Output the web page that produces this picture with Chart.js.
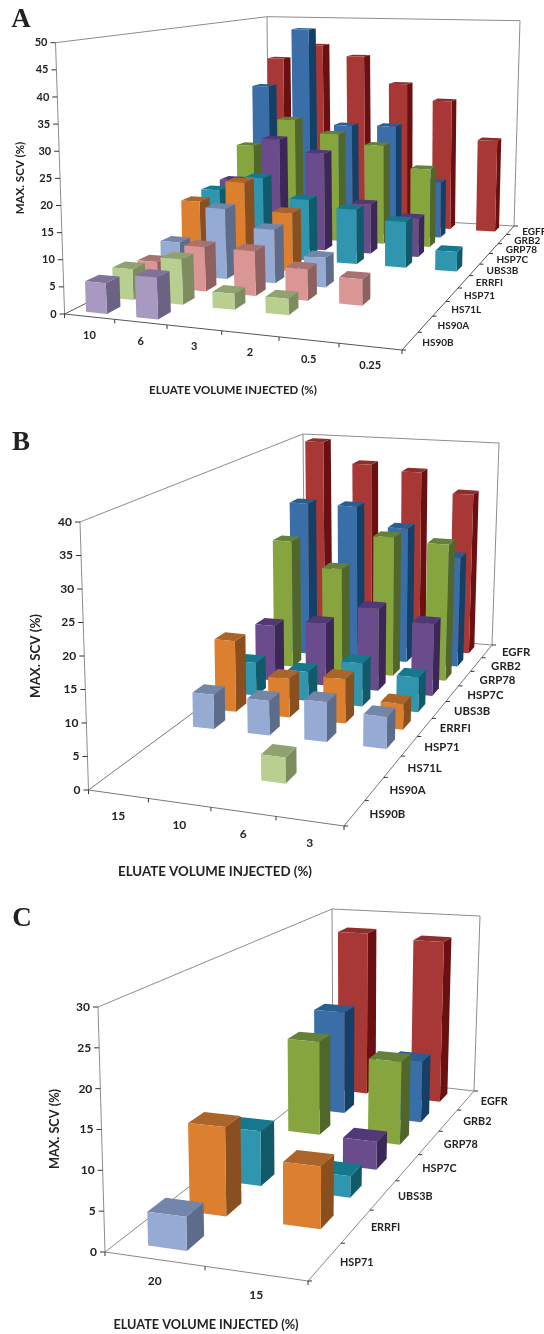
<!DOCTYPE html>
<html>
<head>
<meta charset="utf-8">
<title>Max. SCV</title>
<script src="https://cdn.jsdelivr.net/npm/chart.js@4"></script>
<style>
  html, body { margin: 0; padding: 0; background: #fff; }
  canvas { display: block; filter: blur(0.35px); }
</style>
</head>
<body>
<canvas id="panelA" width="544" height="420"></canvas>
<canvas id="panelB" width="544" height="475"></canvas>
<canvas id="panelC" width="544" height="439"></canvas>
<script>
// Data, front row first. null = no bar drawn.
var seriesA = ["HS90B","HS90A","HS71L","HSP71","ERRFI","UBS3B","HSP7C","GRP78","GRB2","EGFR"];
var categoriesA = ["10","6","3","2","0.5","0.25"];
var valuesA = [
  [5.7, 7.6, null, null, null, null],
  [5.9, 8.6, 3, 3, null, null],
  [5, 8.7, 8.7, 6, 5, null],
  [6.7, 14.3, 10.8, 5.9, null, null],
  [13.3, 18, 12.2, null, null, null],
  [14, 17.2, 13.1, 11.6, 9.7, 4.1],
  [14.5, 24.3, 21.6, 10.8, 8.3, null],
  [21, 27.5, 24.6, 22.4, 17.5, null],
  [34, 48, 25.3, 25.5, 12.8, null],
  [40, 43.5, 41, 34.5, 30.7, 21.6]
];

var seriesB = ["HS90B","HS90A","HS71L","HSP71","ERRFI","UBS3B","HSP7C","GRP78","GRB2","EGFR"];
var categoriesB = ["15","10","6","3"];
var valuesB = [
  [null, null, null, null],
  [null, null, 4, null],
  [null, null, null, null],
  [5.7, 5.7, 6.5, 5.2],
  [12.1, 6.6, 7.5, 4.3],
  [5.8, 5.1, 7.5, 6],
  [10, 11.2, 14.7, 12.8],
  [23.5, 19, 25.6, 25],
  [29, 29, 25.4, 20.5],
  [39.6, 35.6, 34.6, 30.8]
];

var seriesC = ["HSP71","ERRFI","UBS3B","HSP7C","GRP78","GRB2","EGFR"];
var categoriesC = ["20","15"];
var valuesC = [
  [4.2, null],
  [11.7, 8],
  [7.6, 2.9],
  [null, 4],
  [14.4, 12.5],
  [16.4, 9.6],
  [27.4, 26.7]
];

// front, side, top
var shades = {
  HS90B: ["#a899c0","#6c6384","#7f7399"],
  HS90A: ["#b8cf90","#7d8d60","#8fa270"],
  HS71L: ["#d99694","#8f6060","#a87272"],
  HSP71: ["#95abd3","#5c6c8a","#7385a8"],
  ERRFI: ["#dc7f2e","#8a4f1e","#ab642a"],
  UBS3B: ["#3095ae","#105a6a","#15788c"],
  HSP7C: ["#6a4c8c","#3d2759","#523877"],
  GRP78: ["#87a53f","#50662a","#65803a"],
  GRB2:  ["#3a6ea8","#143f66","#2a5d90"],
  EGFR:  ["#a83835","#6b1010","#8c2f2c"]
};

// Unit square -> quad (fl, fr, br, bl)
function quadMap(q0, q1, q2, q3) {
  var dx1=q1[0]-q2[0], dx2=q3[0]-q2[0], dx3=q0[0]-q1[0]+q2[0]-q3[0];
  var dy1=q1[1]-q2[1], dy2=q3[1]-q2[1], dy3=q0[1]-q1[1]+q2[1]-q3[1];
  var den=dx1*dy2-dx2*dy1;
  var g=(dx3*dy2-dx2*dy3)/den, h=(dx1*dy3-dx3*dy1)/den;
  var a=q1[0]-q0[0]+g*q1[0], b=q3[0]-q0[0]+h*q3[0];
  var d=q1[1]-q0[1]+g*q1[1], e=q3[1]-q0[1]+h*q3[1];
  return function(u,v) {
    var W=g*u+h*v+1;
    return [(a*u+b*v+q0[0])/W, (d*u+e*v+q0[1])/W];
  };
}

// (u,v,w) -> canvas pixel, between the floor and the ceiling of the box.
function makeProjection(box) {
  var floor = quadMap(box.fl, box.fr, box.br, box.bl);
  var ceil = quadMap(box.flTop, box.frTop, box.brTop, box.blTop);
  return function(u,v,w) {
    var a = floor(u,v), b = ceil(u,v);
    return [a[0]+(b[0]-a[0])*w, a[1]+(b[1]-a[1])*w];
  };
}

function poly(ctx, pts, fill) {
  ctx.beginPath();
  ctx.moveTo(pts[0][0], pts[0][1]);
  for (var i=1;i<pts.length;i++) ctx.lineTo(pts[i][0], pts[i][1]);
  ctx.closePath();
  ctx.fillStyle = fill;
  ctx.fill();
}

function seg(ctx, a, b, color) {
  ctx.beginPath();
  ctx.moveTo(a[0], a[1]);
  ctx.lineTo(b[0], b[1]);
  ctx.strokeStyle = color;
  ctx.lineWidth = 1;
  ctx.stroke();
}

// Walls, ticks and labels, using the chart's own (hidden) scales for ticks.
function drawFrame(chart, cfg, P) {
  var ctx = chart.ctx, s = chart.scales, area = chart.chartArea;
  var wall = "#8c8c8c", ink = "#222";
  [[[0,0,0],[0,0,1]],[[0,0,1],[0,1,1]],[[0,1,0],[0,1,1]],[[0,1,1],[1,1,1]],[[1,1,0],[1,1,1]],[[0,1,0],[1,1,0]]]
  .forEach(function(e){ seg(ctx, P.apply(null,e[0]), P.apply(null,e[1]), wall); });
  [[[0,0,0],[1,0,0]],[[1,0,0],[1,1,0]],[[0,0,0],[0,1,0]]]
  .forEach(function(e){ seg(ctx, P.apply(null,e[0]), P.apply(null,e[1]), cfg.floorLine); });

  ctx.fillStyle = ink;
  ctx.font = "bold "+cfg.tickFont+"px Lato";
  ctx.textBaseline = "middle";

  // value axis
  ctx.textAlign = "right";
  s.y.ticks.forEach(function(t){
    var w = (area.bottom - s.y.getPixelForValue(t.value)) / area.height;
    var p = P(0,0,w);
    seg(ctx, [p[0]-5,p[1]], p, "#333");
    ctx.fillStyle = ink;
    ctx.fillText(t.label, p[0]-8, p[1]);
  });

  // category axis
  ctx.textAlign = "center";
  var nx = s.x.ticks.length;
  for (var i=0;i<=nx;i++) {
    var q = P(i/nx,0,0);
    seg(ctx, q, [q[0],q[1]+4], "#333");
  }
  s.x.ticks.forEach(function(t,i){
    var u = (s.x.getPixelForTick(i) - area.left) / area.width;
    var p = P(u,0,0);
    ctx.fillStyle = ink;
    ctx.fillText(t.label, p[0], p[1]+cfg.xLabelDrop);
  });

  // depth axis
  ctx.textAlign = "left";
  ctx.font = "bold "+cfg.zFont+"px Lato";
  var nz = s.z.ticks.length;
  for (var j=0;j<=nz;j++) {
    var r = P(1,j/nz,0);
    seg(ctx, r, [r[0]+4,r[1]], "#333");
  }
  s.z.ticks.forEach(function(t,i){
    var v = (s.z.getPixelForTick(i) - area.left) / area.width;
    var p = P(1,v,0);
    ctx.fillStyle = ink;
    ctx.fillText(t.label, p[0]+cfg.zLabelGap, p[1]+1.5);
  });

  // titles
  ctx.font = "bold "+cfg.titleFont+"px Lato";
  ctx.textAlign = "center";
  ctx.fillText("ELUATE VOLUME INJECTED (%)", cfg.xTitle[0], cfg.xTitle[1]);
  ctx.save();
  ctx.translate(cfg.yTitle[0], cfg.yTitle[1]);
  ctx.rotate(-Math.PI/2);
  ctx.fillText("MAX. SCV (%)", 0, 0);
  ctx.restore();
  ctx.font = "bold 27px 'Liberation Serif'";
  ctx.fillText(cfg.letter, cfg.letterAt[0], cfg.letterAt[1]);
}

function drawCuboid(ctx, P, u0, u1, v0, v1, h, col) {
  var a=P(u0,v0,0), b=P(u1,v0,0), c=P(u1,v0,h), d=P(u0,v0,h);
  var e=P(u1,v1,0), f=P(u1,v1,h), g=P(u0,v1,h);
  poly(ctx,[b,e,f,c],col[1]);
  poly(ctx,[d,c,f,g],col[2]);
  poly(ctx,[a,b,c,d],col[0]);
}

var bars3d = {
  id: "bars3d",
  beforeDatasetsDraw: function(chart) {
    var cfg = chart.options.plugins.bars3d;
    var P = makeProjection(cfg.box);
    var ctx = chart.ctx, area = chart.chartArea, zs = chart.scales.z;
    drawFrame(chart, cfg, P);
    var n = chart.data.datasets.length;
    var dv = cfg.depth / n;
    for (var d=n-1;d>=0;d--) {
      var ds = chart.data.datasets[d];
      var meta = chart.getDatasetMeta(d);
      var v = (zs.getPixelForValue(ds.label) - area.left) / area.width;
      meta.data.forEach(function(el, i){
        if (ds.data[i] === null) return;
        var u = (el.x - area.left) / area.width;
        var hw = el.width / area.width / 2;
        var h = (area.bottom - el.y) / area.height;
        drawCuboid(ctx, P, u-hw, u+hw, v-dv/2, v+dv/2, h, shades[ds.label]);
      });
    }
    return false;
  }
};

function makePanel(id, categories, series, values, yMax, cfg) {
  return new Chart(document.getElementById(id), {
    type: "bar",
    plugins: [bars3d],
    data: {
      labels: categories,
      datasets: series.map(function(name, i){
        return { label: name, data: values[i], grouped: false,
                 barPercentage: cfg.barWidth, categoryPercentage: 1,
                 backgroundColor: shades[name][0] };
      })
    },
    options: {
      responsive: false,
      animation: false,
      plugins: { legend: {display:false}, tooltip: {enabled:false}, bars3d: cfg },
      scales: {
        x: { type:"category", offset:true, display:false, ticks:{autoSkip:false} },
        z: { type:"category", axis:"x", labels:series, offset:true, display:false, ticks:{autoSkip:false} },
        y: { type:"linear", min:0, max:yMax, display:false, ticks:{stepSize:5, autoSkip:false} }
      }
    }
  });
}

makePanel("panelA", categoriesA, seriesA, valuesA, 50, {
  box: { fl:[64.6,314], fr:[402,350], br:[514,226], bl:[269,212],
         flTop:[55.5,42.7], frTop:[406,55], brTop:[520,20.7], blTop:[267,16.7] },
  barWidth:0.42, depth:0.5, tickFont:11, zFont:10, titleFont:11.5, xLabelDrop:19, zLabelGap:12,
  floorLine:"#555", xTitle:[233,390], yTitle:[20,178], letter:"A", letterAt:[21,20]
});
makePanel("panelB", categoriesB, seriesB, valuesB, 40, {
  box: { fl:[88.5,370], fr:[344,406], br:[492,225], bl:[305,210],
         flTop:[80,102], frTop:[347,130], brTop:[499,23], blTop:[303,14] },
  barWidth:0.39, depth:0.5, tickFont:12, zFont:11.4, titleFont:13.3, xLabelDrop:22, zLabelGap:15,
  floorLine:"#777", xTitle:[215,452], yTitle:[36,236], letter:"B", letterAt:[21,23]
});
makePanel("panelC", categoriesC, seriesC, valuesC, 30, {
  box: { fl:[105,357], fr:[308,386], br:[474,196], bl:[333,180],
         flTop:[98,112], frTop:[310,128], brTop:[480,21], blTop:[332,14] },
  barWidth:0.395, depth:0.42, tickFont:12, zFont:10.8, titleFont:12.7, xLabelDrop:22, zLabelGap:15,
  floorLine:"#888", xTitle:[206,430], yTitle:[55,234], letter:"C", letterAt:[22,24]
});
</script>
</body>
</html>
